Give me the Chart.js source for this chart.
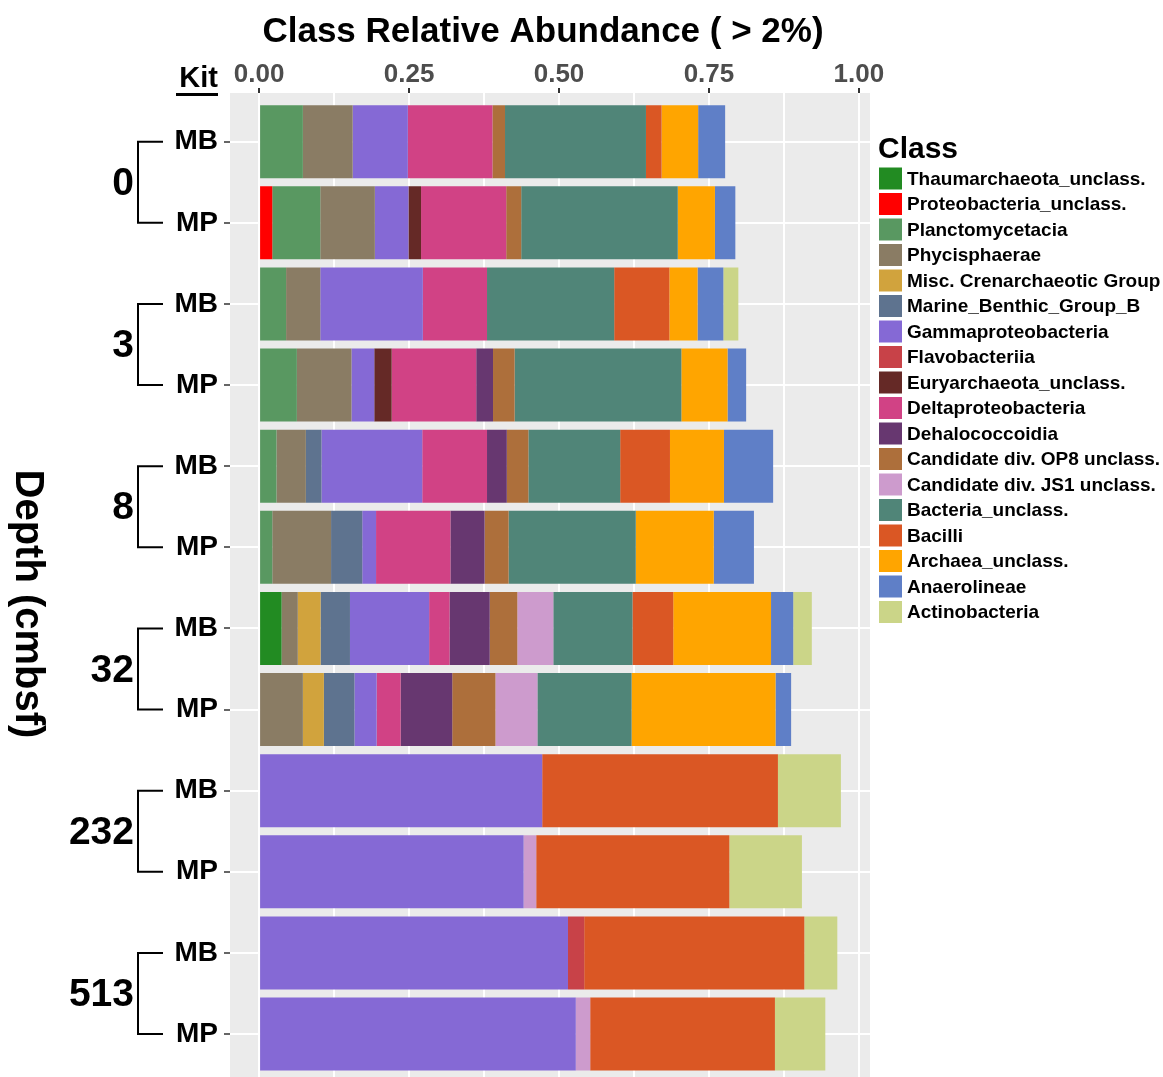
<!DOCTYPE html>
<html>
<head>
<meta charset="utf-8">
<script src="https://cdn.jsdelivr.net/npm/chart.js@4.4.1/dist/chart.umd.min.js"></script>
<style>
  html, body { margin: 0; padding: 0; background: #fff; }
  #wrap { width: 1163px; height: 1077px; }
  canvas { display: block; }
</style>
</head>
<body>
<div id="wrap"><canvas id="chart" width="1163" height="1077"></canvas></div>
<script>
// bars top to bottom
const sampleDepth = ['0', '0', '3', '3', '8', '8', '32', '32', '232', '232', '513', '513'];
const sampleKit = ['MB', 'MP', 'MB', 'MP', 'MB', 'MP', 'MB', 'MP', 'MB', 'MP', 'MB', 'MP'];
const depthGroups = ['0', '3', '8', '32', '232', '513'];

const xTicks = [0, 0.125, 0.25, 0.375, 0.5, 0.625, 0.75, 0.875, 1];
const xMajor = [0, 0.25, 0.5, 0.75, 1];

const classNames = [
    'Thaumarchaeota_unclass.', 'Proteobacteria_unclass.', 'Planctomycetacia', 'Phycisphaerae',
    'Misc. Crenarchaeotic Group', 'Marine_Benthic_Group_B', 'Gammaproteobacteria', 'Flavobacteriia',
    'Euryarchaeota_unclass.', 'Deltaproteobacteria', 'Dehalococcoidia', 'Candidate div. OP8 unclass.',
    'Candidate div. JS1 unclass.', 'Bacteria_unclass.', 'Bacilli', 'Archaea_unclass.',
    'Anaerolineae', 'Actinobacteria',
];
const classColors = [
    '#228B22', '#FF0000', '#599861', '#8A7C64',
    '#D1A33D', '#5E738F', '#8569D5', '#C84248',
    '#652926', '#D14285', '#673770', '#AD6F3B',
    '#CD9BCD', '#508578', '#DA5724', '#FFA500',
    '#5F7FC7', '#CBD588',
];

// relative abundance per class, one value per bar (0 MB, 0 MP, 3 MB, ... 513 MP)
const thaumarchaeota = [0, 0, 0, 0, 0, 0, 0.0375, 0, 0, 0, 0, 0];
const proteobacteria = [0, 0.022, 0, 0, 0, 0, 0, 0, 0, 0, 0, 0];
const planctomycetacia = [0.073, 0.080, 0.045, 0.063, 0.029, 0.022, 0, 0, 0, 0, 0, 0];
const phycisphaerae = [0.083, 0.091, 0.057, 0.091, 0.049, 0.098, 0.027, 0.073, 0, 0, 0, 0];
const miscCrenarchaeotic = [0, 0, 0, 0, 0, 0, 0.038, 0.035, 0, 0, 0, 0];
const marineBenthicB = [0, 0, 0, 0, 0.026, 0.052, 0.049, 0.051, 0, 0, 0, 0];
const gammaproteobacteria = [0.092, 0.056, 0.171, 0.038, 0.168, 0.023, 0.132, 0.037, 0.472, 0.441, 0.515, 0.528];
const flavobacteriia = [0, 0, 0, 0, 0, 0, 0, 0, 0, 0, 0.027, 0];
const euryarchaeota = [0, 0.021, 0, 0.029, 0, 0, 0, 0, 0, 0, 0, 0];
const deltaproteobacteria = [0.141, 0.142, 0.107, 0.141, 0.108, 0.124, 0.034, 0.040, 0, 0, 0, 0];
const dehalococcoidia = [0, 0, 0, 0.028, 0.033, 0.057, 0.067, 0.086, 0, 0, 0, 0];
const op8 = [0.021, 0.025, 0, 0.036, 0.036, 0.040, 0.046, 0.072, 0, 0, 0, 0];
const js1 = [0, 0, 0, 0, 0, 0, 0.060, 0.070, 0, 0.021, 0, 0.024];
const bacteriaUnclass = [0.235, 0.261, 0.212, 0.278, 0.153, 0.212, 0.132, 0.157, 0, 0, 0, 0];
const bacilli = [0.026, 0, 0.092, 0, 0.083, 0, 0.068, 0, 0.393, 0.322, 0.367, 0.308];
const archaeaUnclass = [0.061, 0.062, 0.047, 0.077, 0.090, 0.130, 0.163, 0.240, 0, 0, 0, 0];
const anaerolineae = [0.045, 0.034, 0.043, 0.031, 0.082, 0.067, 0.037, 0.026, 0, 0, 0, 0];
const actinobacteria = [0, 0, 0.025, 0, 0, 0, 0.031, 0, 0.105, 0.121, 0.055, 0.084];

const classValues = [
    thaumarchaeota, proteobacteria, planctomycetacia, phycisphaerae,
    miscCrenarchaeotic, marineBenthicB, gammaproteobacteria, flavobacteriia,
    euryarchaeota, deltaproteobacteria, dehalococcoidia, op8,
    js1, bacteriaUnclass, bacilli, archaeaUnclass,
    anaerolineae, actinobacteria,
];

const FONT = '"Liberation Sans", Arial, Helvetica, sans-serif';
Chart.defaults.font.family = FONT;

const datasets = classNames.map((name, c) => ({
    label: name,
    data: classValues[c].map((v, i) => ({ x: v, y: i })).filter(p => p.x > 0),
    backgroundColor: classColors[c],
    borderWidth: 0,
    barPercentage: 0.9,
    categoryPercentage: 1,
}));

// grey panel behind the grid
const panelBg = {
    id: 'panelBg',
    beforeDraw(chart) {
        const { ctx, chartArea: a } = chart;
        ctx.save();
        ctx.fillStyle = '#fff';
        ctx.fillRect(0, 0, chart.width, chart.height);
        ctx.fillStyle = '#EBEBEB';
        ctx.fillRect(a.left, a.top, a.right - a.left, a.bottom - a.top);
        ctx.restore();
    },
};

// titles, depth brackets and legend
const annotations = {
    id: 'annotations',
    afterDraw(chart) {
        const { ctx } = chart;
        const y = chart.scales.y;
        ctx.save();
        ctx.fillStyle = '#000';

        ctx.font = 'bold 35px ' + FONT;
        ctx.textAlign = 'center';
        ctx.textBaseline = 'alphabetic';
        ctx.fillText('Class Relative Abundance ( > 2%)', 543, 42);

        ctx.font = 'bold 29px ' + FONT;
        ctx.textAlign = 'right';
        ctx.fillText('Kit', 218, 87);
        ctx.fillRect(176, 93, 42, 3);

        // depth groups with brackets
        ctx.lineWidth = 2;
        ctx.strokeStyle = '#000';
        ctx.font = 'bold 39px ' + FONT;
        ctx.textBaseline = 'middle';
        depthGroups.forEach((d, g) => {
            const y1 = y.getPixelForValue(g * 2);
            const y2 = y.getPixelForValue(g * 2 + 1);
            ctx.beginPath();
            ctx.moveTo(163, y1);
            ctx.lineTo(138, y1);
            ctx.lineTo(138, y2);
            ctx.lineTo(163, y2);
            ctx.stroke();
            ctx.fillText(d, 134, (y1 + y2) / 2 + 2);
        });

        // y axis title, reading top to bottom
        ctx.save();
        ctx.translate(27, 604);
        ctx.rotate(Math.PI / 2);
        ctx.textAlign = 'center';
        ctx.font = 'bold 40px ' + FONT;
        ctx.fillText('Depth (cmbsf)', 0, 0);
        ctx.restore();

        // legend
        ctx.textAlign = 'left';
        ctx.textBaseline = 'alphabetic';
        ctx.font = 'bold 30px ' + FONT;
        ctx.fillText('Class', 878, 158);
        ctx.font = 'bold 19px ' + FONT;
        ctx.textBaseline = 'middle';
        classNames.forEach((name, c) => {
            const cy = 178.5 + c * 25.5;
            ctx.fillStyle = classColors[c];
            ctx.fillRect(879, cy - 11, 23, 22);
            ctx.fillStyle = '#000';
            ctx.fillText(name, 907, cy + 1);
        });
        ctx.restore();
    },
};

const isMajor = v => xMajor.some(m => Math.abs(m - v) < 1e-9);

new Chart(document.getElementById('chart'), {
    type: 'bar',
    data: { datasets },
    options: {
        indexAxis: 'y',
        responsive: false,
        animation: false,
        layout: { padding: { left: 0, right: 293, top: 0, bottom: 0 } },
        plugins: {
            legend: { display: false },
            tooltip: { enabled: false },
        },
        scales: {
            x: {
                type: 'linear',
                position: 'top',
                stacked: true,
                min: -0.0485,
                max: 1.0185,
                afterBuildTicks: s => { s.ticks = xTicks.map(v => ({ value: v })); },
                afterFit: s => { s.height = 93; },
                border: { display: false },
                grid: {
                    color: '#ffffff',
                    lineWidth: 2,
                    drawTicks: true,
                    tickLength: 5,
                    tickWidth: 2,
                    tickColor: c => (c.tick && isMajor(c.tick.value)) ? '#333333' : 'rgba(0,0,0,0)',
                },
                ticks: {
                    autoSkip: false,
                    maxRotation: 0,
                    padding: 0,
                    color: '#4D4D4D',
                    font: { size: 26, weight: 'bold', lineHeight: 1 },
                    callback: v => isMajor(v) ? v.toFixed(2) : '',
                },
            },
            y: {
                type: 'linear',
                stacked: true,
                reverse: true,
                offset: false,
                min: -0.6,
                max: 11.53,
                afterBuildTicks: s => { s.ticks = sampleKit.map((_, i) => ({ value: i })); },
                afterFit: s => { s.width = 230; s.paddingTop = 0; s.paddingBottom = 0; },
                border: { display: false },
                grid: {
                    offset: false,
                    color: '#ffffff',
                    lineWidth: 2,
                    drawTicks: true,
                    tickLength: 6,
                    tickWidth: 1.5,
                    tickColor: '#333333',
                },
                ticks: {
                    autoSkip: false,
                    padding: 6,
                    color: '#000',
                    font: { size: 28, weight: 'bold' },
                    callback: v => sampleKit[Math.round(v)],
                },
            },
        },
    },
    plugins: [panelBg, annotations],
});
</script>
</body>
</html>
